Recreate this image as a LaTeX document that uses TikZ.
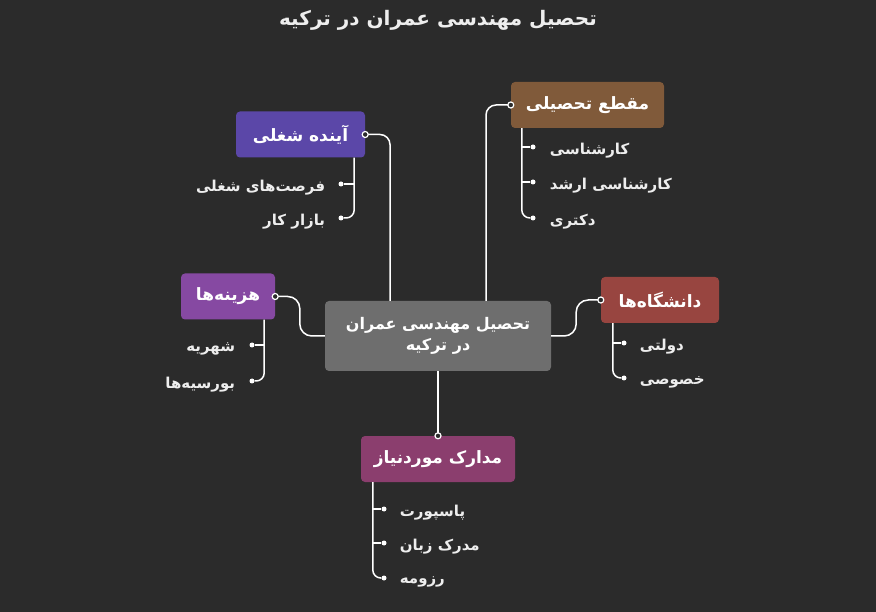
\documentclass[tikz,border=0pt]{standalone}
\usepackage{fontspec}
\newfontfamily\arabicfont[Script=Arabic]{DejaVu Sans}
\TeXXeTstate=1
\usepackage{xcolor}
\usepackage{tikz}
\usetikzlibrary{positioning}
\definecolor{map_bg}{RGB}{43, 43, 43}
\definecolor{map_hub}{RGB}{110, 110, 110}
\definecolor{map_job}{RGB}{91, 71, 168}
\definecolor{map_degree}{RGB}{128, 90, 58}
\definecolor{map_cost}{RGB}{134, 73, 162}
\definecolor{map_uni}{RGB}{152, 69, 64}
\definecolor{map_docs}{RGB}{139, 62, 110}
\definecolor{map_txt}{RGB}{238, 238, 238}
\newcommand{\fatxt}[1]{\beginR #1\endR}

\begin{document}
\begin{tikzpicture}[x=1pt, y=-1pt,
      hub/.style={fill=map_hub, rounded corners=4pt, align=center, text=white,
                  minimum width=226pt, minimum height=70pt,
                  font=\arabicfont\bfseries\fontsize{16}{21}\selectfont},
      topic/.style={rounded corners=4pt, text=white, minimum height=46pt,
                  font=\arabicfont\bfseries\fontsize{17}{20}\selectfont},
      leaf/.style={text=map_txt, inner sep=0pt, yshift=-4pt,
                  font=\arabicfont\bfseries\fontsize{15}{18}\selectfont},
      link/.style={draw=white, line width=1.5pt},
      knob/.style={circle, draw=white, fill=map_bg, line width=1.2pt,
                  inner sep=0pt, minimum size=6pt},
      dot/.style={circle, fill=white, inner sep=0pt, minimum size=5pt}]
      \fill[map_bg] (0,0) rectangle (876,612);
      \useasboundingbox (0,0) rectangle (876,612);
      % Title
      \node[text=map_txt, font=\arabicfont\bfseries\fontsize{20}{24}\selectfont]
        (title) at (438,20) {\fatxt{تحصیل مهندسی عمران در ترکیه}};
      % Hub
      \node[hub] (hub) at (438,336)
        {\fatxt{تحصیل مهندسی عمران}\\\fatxt{در ترکیه}};
      % Topics
      \node[topic, fill=map_job, minimum width=129pt] (job)
        at (300.5,134.5) {\fatxt{آینده شغلی}};
      \node[topic, fill=map_degree, minimum width=153pt] (degree)
        at (587.5,105) {\fatxt{مقطع تحصیلی}};
      \node[topic, fill=map_cost, minimum width=94pt] (cost)
        at (228,296.5) {\fatxt{هزینه‌ها}};
      \node[topic, fill=map_uni, minimum width=118pt] (uni)
        at (660,300) {\fatxt{دانشگاه‌ها}};
      \node[topic, fill=map_docs, minimum width=154pt] (docs)
        at (438,459) {\fatxt{مدارک موردنیاز}};
      % Hub links
      \draw[link, rounded corners=10pt] ([xshift=-48pt]hub.north) |- (job.east);
      \draw[link, rounded corners=10pt] ([xshift=48pt]hub.north) |- (degree.west);
      \draw[link, rounded corners=12pt] (hub.west) -- ++(-25,0) |- (cost.east);
      \draw[link, rounded corners=12pt] (hub.east) -- ++(25,0) |- (uni.west);
      \draw[link] (hub.south) -- (docs.north);
      % Knobs
      \node[knob] (jobk) at (job.east) {};
      \node[knob] (degreek) at (degree.west) {};
      \node[knob] (costk) at (cost.east) {};
      \node[knob] (unik) at (uni.west) {};
      \node[knob] (docsk) at (docs.north) {};
      % Career
      \node[dot] (job1) at (341,184) {};
      \node[dot] (job2) at (341,218) {};
      \coordinate (jobs) at ([xshift=-11pt]job.south east);
      \draw[link, rounded corners=8pt] (jobs) |- (job2);
      \draw[link] (jobs |- job1) -- (job1);
      \node[leaf, left=13pt of job1] (job1t) {\fatxt{فرصت‌های شغلی}};
      \node[leaf, left=13pt of job2] (job2t) {\fatxt{بازار کار}};
      % Degree
      \node[dot] (deg1) at (533,147) {};
      \node[dot] (deg2) at (533,182) {};
      \node[dot] (deg3) at (533,218) {};
      \coordinate (degs) at ([xshift=11pt]degree.south west);
      \draw[link, rounded corners=8pt] (degs) |- (deg3);
      \draw[link] (degs |- deg1) -- (deg1);
      \draw[link] (degs |- deg2) -- (deg2);
      \node[leaf, right=14pt of deg1] (deg1t) {\fatxt{کارشناسی}};
      \node[leaf, right=14pt of deg2] (deg2t) {\fatxt{کارشناسی ارشد}};
      \node[leaf, right=14pt of deg3] (deg3t) {\fatxt{دکتری}};
      % Costs
      \node[dot] (cost1) at (252,345) {};
      \node[dot] (cost2) at (252,381) {};
      \coordinate (costs) at ([xshift=-11pt]cost.south east);
      \draw[link, rounded corners=8pt] (costs) |- (cost2);
      \draw[link] (costs |- cost1) -- (cost1);
      \node[leaf, left=14pt of cost1] (cost1t) {\fatxt{شهریه}};
      \node[leaf, left=14pt of cost2] (cost2t) {\fatxt{بورسیه‌ها}};
      % Universities
      \node[dot] (uni1) at (624,343) {};
      \node[dot] (uni2) at (624,378) {};
      \coordinate (unis) at ([xshift=12pt]uni.south west);
      \draw[link, rounded corners=8pt] (unis) |- (uni2);
      \draw[link] (unis |- uni1) -- (uni1);
      \node[leaf, right=13pt of uni1] (uni1t) {\fatxt{دولتی}};
      \node[leaf, right=13pt of uni2] (uni2t) {\fatxt{خصوصی}};
      % Documents
      \node[dot] (doc1) at (384,509) {};
      \node[dot] (doc2) at (384,543) {};
      \node[dot] (doc3) at (384,578) {};
      \coordinate (docss) at ([xshift=12pt]docs.south west);
      \draw[link, rounded corners=8pt] (docss) |- (doc3);
      \draw[link] (docss |- doc1) -- (doc1);
      \draw[link] (docss |- doc2) -- (doc2);
      \node[leaf, right=13pt of doc1] (doc1t) {\fatxt{پاسپورت}};
      \node[leaf, right=13pt of doc2] (doc2t) {\fatxt{مدرک زبان}};
      \node[leaf, right=13pt of doc3] (doc3t) {\fatxt{رزومه}};
    \end{tikzpicture}
\end{document}
